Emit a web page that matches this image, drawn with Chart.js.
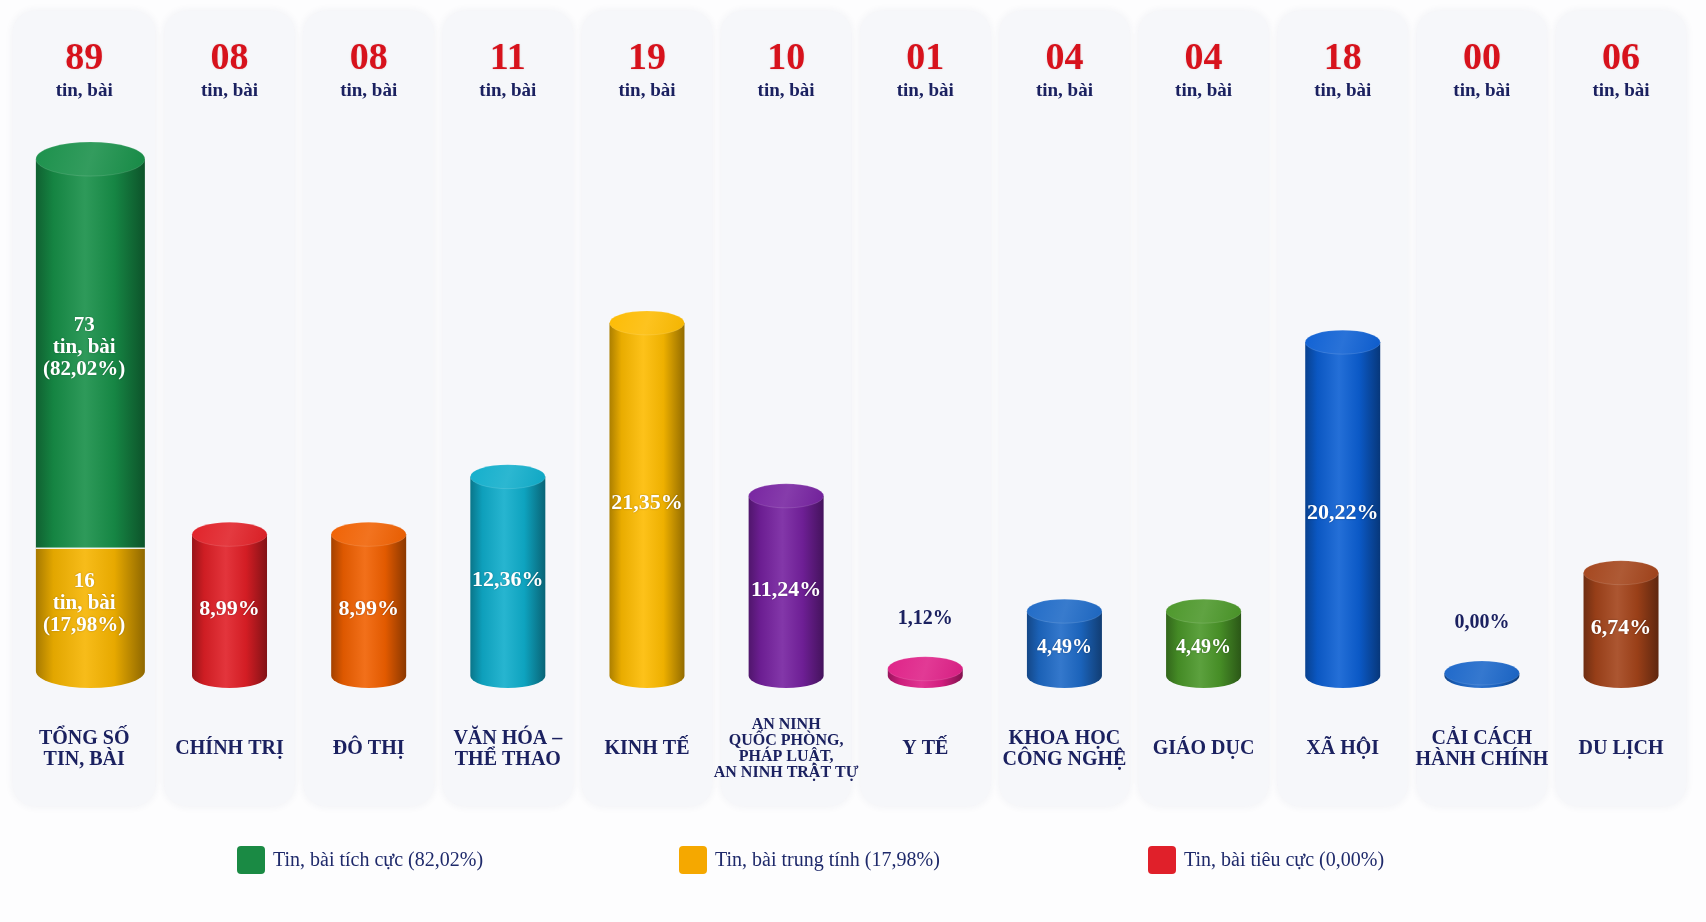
<!DOCTYPE html>
<html>
<head>
<meta charset="utf-8">
<script src="https://cdn.jsdelivr.net/npm/chart.js@4.4.1/dist/chart.umd.min.js"></script>
<style>
  html, body { margin: 0; padding: 0; background: #fdfdfe; }
  #wrap { width: 1706px; height: 922px; position: relative; }
  canvas { display: block; }
</style>
</head>
<body>
<div id="wrap"><canvas id="c" width="1706" height="922"></canvas></div>
<script>
// ---------------- DATA ----------------
const categoryLabels = [
  ["TỔNG SỐ", "TIN, BÀI"],
  ["CHÍNH TRỊ"],
  ["ĐÔ THỊ"],
  ["VĂN HÓA –", "THỂ THAO"],
  ["KINH TẾ"],
  ["AN NINH", "QUỐC PHÒNG,", "PHÁP LUẬT,", "AN NINH TRẬT TỰ"],
  ["Y TẾ"],
  ["KHOA HỌC", "CÔNG NGHỆ"],
  ["GIÁO DỤC"],
  ["XÃ HỘI"],
  ["CẢI CÁCH", "HÀNH CHÍNH"],
  ["DU LỊCH"]
];
// total column (stacked): positive + neutral
const positiveCounts = [73, null, null, null, null, null, null, null, null, null, null, null];
const neutralCounts  = [16, null, null, null, null, null, null, null, null, null, null, null];
const negativeCount = 0;
// topic columns
const topicCounts = [null, 8, 8, 11, 19, 10, 1, 4, 4, 18, 0, 6];
const unitLabel = "tin, bài";
const legendLabels = [
  "Tin, bài tích cực (82,02%)",
  "Tin, bài trung tính (17,98%)",
  "Tin, bài tiêu cực (0,00%)"
];

// ---------------- STYLE ----------------
const topicColors = [null, "#e01f26", "#f06000", "#0fadcb", "#fdbb00", "#75219f",
  "#de1f86", "#1d69c6", "#4a9628", "#0c5fd3", "#1a66c9", "#a3431a"];
const positiveColor = "#178f48";
const neutralColor = "#f6b400";
const legendColors = ["#1a8a44", "#f5a800", "#e0202a"];
const NAVY = "#1b2160";
const RED = "#d7121c";
const SERIF = '"Liberation Serif", "Times New Roman", serif';

const totalCount = positiveCounts[0] + neutralCounts[0] + negativeCount;
const fmtPct = v => (v / totalCount * 100).toFixed(2).replace('.', ',') + '%';
const fmtCount = v => String(v).padStart(2, '0');

const Y2_MIN = -10.2, Y2_MAX = 90.7;

function shade(hex, amt) {
  const n = parseInt(hex.slice(1), 16);
  let r = n >> 16, g = (n >> 8) & 255, b = n & 255;
  const t = amt < 0 ? 0 : 255, p = Math.abs(amt);
  r = Math.round((t - r) * p + r); g = Math.round((t - g) * p + g); b = Math.round((t - b) * p + b);
  return `rgb(${r},${g},${b})`;
}

function bodyGradient(ctx, x, w, c) {
  const g = ctx.createLinearGradient(x - w / 2, 0, x + w / 2, 0);
  g.addColorStop(0, shade(c, -0.32));
  g.addColorStop(0.16, shade(c, -0.08));
  g.addColorStop(0.45, shade(c, 0.1));
  g.addColorStop(0.72, shade(c, -0.06));
  g.addColorStop(1, shade(c, -0.42));
  return g;
}

function drawCylinder(ctx, x, w, topC, bottomC, color, drawBottom, drawTop) {
  const rx = w / 2, ry = Math.round(w * 0.155);
  ctx.save();
  ctx.fillStyle = bodyGradient(ctx, x, w, color);
  if (drawBottom) {
    ctx.beginPath();
    ctx.ellipse(x, bottomC, rx, ry, 0, 0, Math.PI);
    ctx.fill();
  }
  ctx.fillRect(x - rx, topC, w, bottomC - topC);
  if (drawTop) {
    const tg = ctx.createLinearGradient(x - rx, topC - ry, x + rx, topC + ry);
    tg.addColorStop(0, shade(color, 0.02));
    tg.addColorStop(0.5, shade(color, 0.12));
    tg.addColorStop(1, shade(color, -0.04));
    ctx.beginPath();
    ctx.ellipse(x, topC, rx, ry, 0, 0, Math.PI * 2);
    ctx.fillStyle = tg;
    ctx.fill();
    ctx.lineWidth = 1;
    ctx.strokeStyle = 'rgba(255,255,255,0.12)';
    ctx.stroke();
  }
  ctx.restore();
  return ry;
}

function roundRect(ctx, x, y, w, h, r) {
  ctx.beginPath();
  ctx.moveTo(x + r, y);
  ctx.arcTo(x + w, y, x + w, y + h, r);
  ctx.arcTo(x + w, y + h, x, y + h, r);
  ctx.arcTo(x, y + h, x, y, r);
  ctx.arcTo(x, y, x + w, y, r);
  ctx.closePath();
}

function panelBounds(chart, i) {
  const xs = chart.scales.x;
  const cx = xs.getPixelForValue(i);
  if (i === 0) return { left: chart.chartArea.left - 7.8, right: cx + 65 };
  return { left: cx - 65, right: cx + 65 };
}

const cylinderPlugin = {
  id: 'cylinders',
  beforeDatasetsDraw(chart) {
    const ctx = chart.ctx;
    ctx.save();
    for (let i = 0; i < categoryLabels.length; i++) {
      const b = panelBounds(chart, i);
      ctx.save();
      ctx.shadowColor = 'rgba(40,50,100,0.07)';
      ctx.shadowBlur = 8;
      roundRect(ctx, b.left, 11, b.right - b.left, 795, 22);
      ctx.fillStyle = '#f6f7fa';
      ctx.fill();
      ctx.restore();
    }
    ctx.restore();
  },
  afterDatasetsDraw(chart) {
    const ctx = chart.ctx;
    // total stacked column
    const neutralEl = chart.getDatasetMeta(0).data[0];
    const positiveEl = chart.getDatasetMeta(1).data[0];
    const tw = neutralEl.width;
    const tRy = Math.round(tw * 0.155);
    const tBottomC = neutralEl.base - tRy;
    drawCylinder(ctx, neutralEl.x, tw, neutralEl.y, tBottomC, neutralColor, true, false);
    drawCylinder(ctx, positiveEl.x, tw, positiveEl.y, positiveEl.base, positiveColor, false, true);
    ctx.save();
    ctx.strokeStyle = 'rgba(255,255,255,0.85)';
    ctx.lineWidth = 1.5;
    ctx.beginPath();
    ctx.moveTo(positiveEl.x - tw / 2, positiveEl.base);
    ctx.lineTo(positiveEl.x + tw / 2, positiveEl.base);
    ctx.stroke();
    ctx.restore();

    // total texts
    const tcx = (panelBounds(chart, 0).left + panelBounds(chart, 0).right) / 2;
    const blockText = (lines, cy) => {
      ctx.save();
      ctx.font = `bold 21px ${SERIF}`;
      ctx.fillStyle = '#ffffff';
      ctx.textAlign = 'center';
      ctx.textBaseline = 'alphabetic';
      ctx.shadowColor = 'rgba(0,0,0,0.25)';
      ctx.shadowBlur = 2;
      const lh = 22;
      const start = cy - lh * (lines.length - 1) / 2;
      lines.forEach((t, k) => ctx.fillText(t, tcx, start + k * lh + 7));
      ctx.restore();
    };
    blockText([String(positiveCounts[0]), unitLabel, '(' + fmtPct(positiveCounts[0]) + ')'],
      (positiveEl.y + positiveEl.base) / 2 - 8);
    blockText([String(neutralCounts[0]), unitLabel, '(' + fmtPct(neutralCounts[0]) + ')'],
      (neutralEl.y + tBottomC) / 2 - 8);

    // topic columns
    const meta = chart.getDatasetMeta(2);
    meta.data.forEach((el, i) => {
      const v = topicCounts[i];
      if (v === null || v === undefined) return;
      const w = el.width;
      const ry = Math.round(w * 0.155);
      const bottomC = el.base - ry;
      const topC = Math.min(el.y, bottomC - 3);
      drawCylinder(ctx, el.x, w, topC, bottomC, topicColors[i], true, true);
      ctx.save();
      ctx.textAlign = 'center';
      ctx.textBaseline = 'middle';
      const body = bottomC - topC;
      if (body > 30) {
        ctx.font = `bold ${body < 80 ? 20 : 22}px ${SERIF}`;
        ctx.fillStyle = '#ffffff';
        ctx.shadowColor = 'rgba(0,0,0,0.3)';
        ctx.shadowBlur = 2;
        ctx.fillText(fmtPct(v), el.x, (topC + bottomC) / 2 + 4);
      } else {
        ctx.font = `bold 20px ${SERIF}`;
        ctx.fillStyle = NAVY;
        ctx.fillText(fmtPct(v), el.x, topC - ry - 38);
      }
      ctx.restore();
    });
  },
  afterDraw(chart) {
    const ctx = chart.ctx;
    ctx.save();
    ctx.textAlign = 'center';
    for (let i = 0; i < categoryLabels.length; i++) {
      const b = panelBounds(chart, i);
      const cx = (b.left + b.right) / 2;
      const count = i === 0 ? totalCount : topicCounts[i];
      ctx.save();
      ctx.font = `bold 38px ${SERIF}`;
      ctx.fillStyle = RED;
      ctx.textBaseline = 'alphabetic';
      ctx.shadowColor = 'rgba(120,0,0,0.18)';
      ctx.shadowBlur = 2;
      ctx.fillText(fmtCount(count), cx, 68.5);
      ctx.restore();
      ctx.textAlign = 'center';
      ctx.textBaseline = 'alphabetic';
      ctx.font = `bold 19px ${SERIF}`;
      ctx.fillStyle = NAVY;
      ctx.fillText(unitLabel, cx, 96);
      const lines = categoryLabels[i];
      const fs = lines.length > 2 ? 16 : 20;
      const lh = lines.length > 2 ? 16.2 : 20.6;
      ctx.font = `bold ${fs}px ${SERIF}`;
      const start = 747.8 - lh * (lines.length - 1) / 2;
      lines.forEach((t, k) => ctx.fillText(t, cx, start + k * lh + fs * 0.33));
    }
    // legend
    const lx = [237, 679, 1148];
    const ly = 860;
    legendLabels.forEach((t, k) => {
      ctx.fillStyle = legendColors[k];
      roundRect(ctx, lx[k], ly - 14, 28, 28, 4);
      ctx.fill();
      ctx.font = `20px ${SERIF}`;
      ctx.fillStyle = '#1f2a6b';
      ctx.textAlign = 'left';
      ctx.textBaseline = 'middle';
      ctx.fillText(t, lx[k] + 36, ly + 1);
    });
    ctx.restore();
  }
};

new Chart(document.getElementById('c'), {
  type: 'bar',
  data: {
    labels: categoryLabels,
    datasets: [
      { label: legendLabels[1], data: neutralCounts, yAxisID: 'y2', stack: 'total', base: Y2_MIN,
        barThickness: 109, grouped: false, backgroundColor: 'rgba(0,0,0,0)' },
      { label: legendLabels[0], data: positiveCounts, yAxisID: 'y2', stack: 'total',
        barThickness: 109, grouped: false, backgroundColor: 'rgba(0,0,0,0)' },
      { label: 'Chủ đề', data: topicCounts, yAxisID: 'y', stack: 'topic',
        barThickness: 75, grouped: false, backgroundColor: 'rgba(0,0,0,0)' }
    ]
  },
  options: {
    responsive: false,
    animation: false,
    devicePixelRatio: window.devicePixelRatio || 1,
    layout: { padding: { left: 20.8, right: 15.4, top: 150, bottom: 234 } },
    plugins: { legend: { display: false }, tooltip: { enabled: false }, title: { display: false } },
    scales: {
      x: { display: false, stacked: true, offset: true },
      y: { display: false, min: 0, max: 28 },
      y2: { display: false, stacked: true, min: Y2_MIN, max: Y2_MAX }
    }
  },
  plugins: [cylinderPlugin]
});
</script>
</body>
</html>
